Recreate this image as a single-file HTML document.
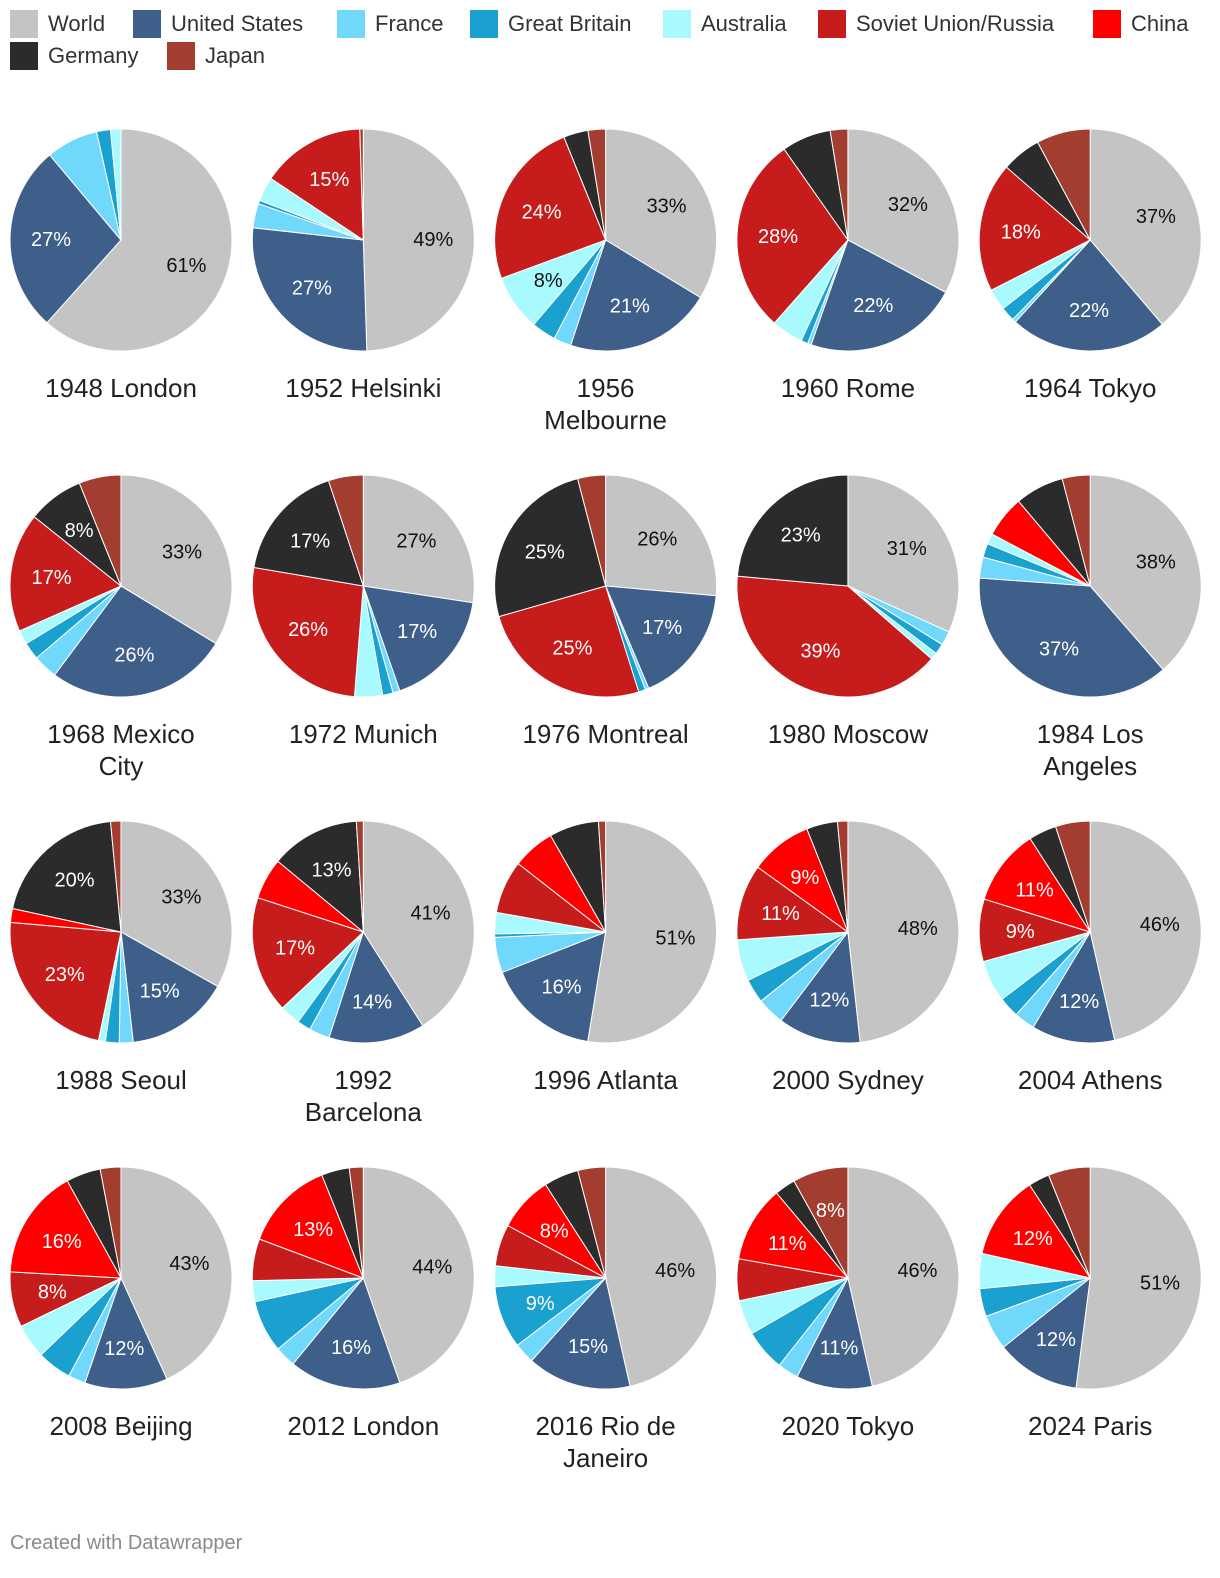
<!DOCTYPE html>
<html><head><meta charset="utf-8">
<style>
body{margin:0;background:#fff;font-family:"Liberation Sans",sans-serif;}
#wrap{position:relative;width:1220px;height:1578px;overflow:hidden;}
.leg{position:absolute;font-size:22px;color:#333;line-height:28px;}
.sw{position:absolute;width:28px;height:28px;}
</style></head>
<body>
<div id="wrap">
<div id="legend"></div>
<svg id="pies" width="1220" height="1578" style="position:absolute;left:0;top:0"></svg>
<div style="position:absolute;left:10px;top:1532px;font-size:20px;color:#8a8a8a;">Created with Datawrapper</div>
</div>
<script>
const series = ["World","United States","France","Great Britain","Australia","Soviet Union/Russia","China","Germany","Japan"];
const colors = ["#c4c4c4","#3d5f8a","#6fd8fb","#1aa1cf","#a8fafe","#c71c1c","#ff0000","#2b2b2b","#a33d30"];
const darkText = [false,true,false,true,false,true,true,true,true];
const titles = [["1948 London"],["1952 Helsinki"],["1956","Melbourne"],["1960 Rome"],["1964 Tokyo"],
 ["1968 Mexico","City"],["1972 Munich"],["1976 Montreal"],["1980 Moscow"],["1984 Los","Angeles"],
 ["1988 Seoul"],["1992","Barcelona"],["1996 Atlanta"],["2000 Sydney"],["2004 Athens"],
 ["2008 Beijing"],["2012 London"],["2016 Rio de","Janeiro"],["2020 Tokyo"],["2024 Paris"]];
const values = [
 [61,27,7.5,2,1.5,0,0,0,0],
 [49,27,3.5,0.5,3.5,15,0,0,0.5],
 [33,21,2.5,3.5,8,24,0,3.5,2.5],
 [32,22,0.5,1,4.5,28,0,7,2.5],
 [37,22,0.5,2,3,18,0,5.5,7.5],
 [33,26,3.5,2.5,2,17,0,8,6],
 [27,17,1,1.5,4,26,0,17,5],
 [26,17,0.5,1,0,25,0,25,4],
 [31,0,2,1.5,1,39,0,23,0],
 [38,37,3,2,1.5,0,6,7,4],
 [33,15,2,2,1,23,2,20,1.5],
 [41,14,3,2,3,17,6,13,1],
 [51,16,5,0.5,3,7.5,6,7,1],
 [48,12,4,3.5,6,11,9,4.5,1.5],
 [46,12,3,3,6,9,11,4,5],
 [43,12,2.5,5,5,8,16,5,3],
 [44,16,3,7.5,3,6,13,4,2],
 [46,15,3,9,3,6,8,5,4],
 [46,11,3,6,5,6,11,3,8],
 [51,12,5,4,5,0,12,3,6]
];
const legX=[[10,48],[133,171],[337,375],[470,508],[663,701],[818,856],[1093,1131],[10,48],[167,205]];
const lg=document.getElementById('legend');
series.forEach((s,i)=>{
 const y=i<7?10:42;
 const sw=document.createElement('div');
 sw.className='sw';sw.style.left=legX[i][0]+'px';sw.style.top=y+'px';sw.style.background=colors[i];
 
 
 lg.appendChild(sw);
 const t=document.createElement('div');
 t.className='leg';t.style.left=legX[i][1]+'px';t.style.top=y+'px';t.textContent=s;
 
 
 lg.appendChild(t);
});
const svg=document.getElementById('pies');
const NS='http://www.w3.org/2000/svg';
const R=111, LR=70;
function pt(cx,cy,r,a){return [cx+r*Math.sin(a),cy-r*Math.cos(a)];}
values.forEach((vals,p)=>{
 const cx=121+242.3*(p%5), cy=240+346*Math.floor(p/5);
 const tot=vals.reduce((a,b)=>a+b,0);
 let a0=0;
 const g=document.createElementNS(NS,'g');
 
 
 svg.appendChild(g);
 vals.forEach((v,i)=>{
  if(v<=0)return;
  const a1=a0+v/tot*2*Math.PI;
  const [x0,y0]=pt(cx,cy,R,a0),[x1,y1]=pt(cx,cy,R,a1);
  const path=document.createElementNS(NS,'path');
  const large=(a1-a0)>Math.PI?1:0;
  path.setAttribute('d',`M${cx},${cy}L${x0},${y0}A${R},${R} 0 ${large} 1 ${x1},${y1}Z`);
  path.setAttribute('fill',colors[i]);path.setAttribute('stroke','#fff');path.setAttribute('stroke-width','1');
  
  
  g.appendChild(path);
  if(v>=8){
   const [lx,ly]=pt(cx,cy,LR,(a0+a1)/2);
   const t=document.createElementNS(NS,'text');
   t.setAttribute('x',lx);t.setAttribute('y',ly+7);t.setAttribute('text-anchor','middle');
   t.setAttribute('font-size','20');t.setAttribute('font-family','"Liberation Sans",sans-serif');
   t.setAttribute('fill',darkText[i]?'#fff':'#111');
   t.textContent=Math.round(v)+'%';
   
   
   g.appendChild(t);
  }
  a0=a1;
 });
 titles[p].forEach((line,k)=>{
  const t=document.createElementNS(NS,'text');
  t.setAttribute('x',cx);t.setAttribute('y',cy+157+k*32);t.setAttribute('text-anchor','middle');
  t.setAttribute('font-size','26');t.setAttribute('font-family','"Liberation Sans",sans-serif');
  t.setAttribute('fill','#222');t.textContent=line;
  
  
  svg.appendChild(t);
 });
});
</script>
</body></html>
